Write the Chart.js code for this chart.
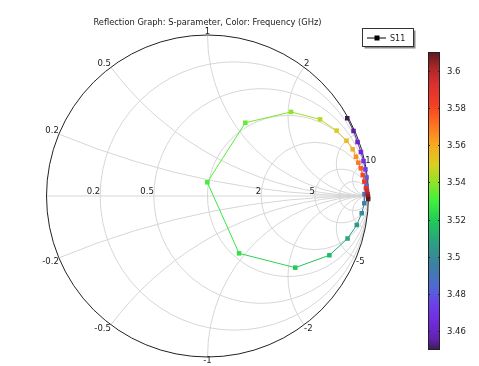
<!DOCTYPE html>
<html>
<head>
<meta charset="utf-8">
<script src="https://cdn.jsdelivr.net/npm/chart.js@4"></script>
<style>
  html,body{margin:0;padding:0;background:#fff;}
  canvas{display:block;}
</style>
</head>
<body>
<canvas id="c" width="479" height="366"></canvas>
<script>
// ---------------- data ----------------
const titleText = "Reflection Graph: S-parameter, Color: Frequency (GHz)";
const seriesName = "S11";
const freqGHz = [3.45, 3.455, 3.46, 3.465, 3.47, 3.475, 3.48, 3.485, 3.49, 3.495,
                 3.5, 3.505, 3.51, 3.515, 3.52, 3.525, 3.53, 3.535, 3.54, 3.545,
                 3.55, 3.555, 3.56, 3.565, 3.57, 3.575, 3.58, 3.585, 3.59, 3.595,
                 3.6, 3.605, 3.61];
const reGamma = [0.868, 0.907, 0.932, 0.953, 0.969, 0.981, 0.988, 0.988, 0.975, 0.974,
                 0.958, 0.927, 0.870, 0.757, 0.545, 0.196, -0.001, 0.235, 0.519, 0.699,
                 0.802, 0.863, 0.902, 0.922, 0.937, 0.952, 0.964, 0.974, 0.984, 0.991,
                 0.995, 0.997, 0.998];
const imGamma = [0.483, 0.404, 0.335, 0.273, 0.217, 0.165, 0.115, 0.062, 0.012, -0.045,
                 -0.107, -0.180, -0.264, -0.368, -0.445, -0.356, 0.085, 0.455, 0.522, 0.476,
                 0.406, 0.343, 0.290, 0.244, 0.207, 0.172, 0.130, 0.089, 0.048, 0.031,
                 0.012, -0.003, -0.019];
// Smith grid values
const rGrid = [0.2, 0.5, 1, 2, 5, 10];
const xGrid = [0.2, 0.5, 1, 2, 5, 10, -0.2, -0.5, -1, -2, -5, -10];
const rLabels = [0.2, 0.5, 2, 5];
const xLabels = [0.2, 0.5, 1, 2, 10, -0.2, -0.5, -1, -2, -5];
// color bar
const cbMin = 3.45, cbMax = 3.61;
const cbTicks = [3.46, 3.48, 3.5, 3.52, 3.54, 3.56, 3.58, 3.6];
const cbTickLabels = ["3.46", "3.48", "3.5", "3.52", "3.54", "3.56", "3.58", "3.6"];

// ---------------- colormap ----------------
const cmapStops = [
  [0.00, [60, 28, 84]],
  [0.04, [100, 34, 180]],
  [0.10, [112, 44, 224]],
  [0.15, [108, 62, 236]],
  [0.21, [80, 104, 210]],
  [0.29, [60, 130, 160]],
  [0.36, [44, 160, 130]],
  [0.43, [32, 200, 90]],
  [0.50, [64, 240, 60]],
  [0.56, [140, 228, 40]],
  [0.62, [216, 208, 32]],
  [0.69, [248, 168, 32]],
  [0.76, [255, 110, 32]],
  [0.82, [246, 64, 36]],
  [0.89, [220, 48, 48]],
  [0.95, [168, 38, 40]],
  [1.00, [90, 26, 32]]
];
function cmap(v){
  let t = (v - cbMin) / (cbMax - cbMin);
  t = Math.max(0, Math.min(1, t));
  for (let i = 1; i < cmapStops.length; i++){
    const [t1, c1] = cmapStops[i];
    const [t0, c0] = cmapStops[i-1];
    if (t <= t1){
      const f = (t - t0) / (t1 - t0);
      const c = c0.map((a, k) => Math.round(a + (c1[k] - a) * f));
      return `rgb(${c[0]},${c[1]},${c[2]})`;
    }
  }
  const c = cmapStops[cmapStops.length-1][1];
  return `rgb(${c[0]},${c[1]},${c[2]})`;
}

const points = freqGHz.map((f, i) => ({x: reGamma[i], y: imGamma[i], f}));
const pointColors = freqGHz.map(cmap);

const TXT = '#1a1a1a';
const LABEL_FONT = '8.5px "DejaVu Sans"';

const smithPlugin = {
  id: 'smith',
  beforeDatasetsDraw(chart){
    const ctx = chart.ctx, xs = chart.scales.x, ys = chart.scales.y;
    const px = v => xs.getPixelForValue(v);
    const py = v => ys.getPixelForValue(v);
    const unit = px(1) - px(0);
    const cx = px(0), cy = py(0);
    ctx.save();
    ctx.beginPath(); ctx.arc(cx, cy, unit, 0, 2*Math.PI); ctx.clip();
    ctx.strokeStyle = '#d6d6d6'; ctx.lineWidth = 1;
    ctx.beginPath(); ctx.moveTo(px(-1), cy); ctx.lineTo(px(1), cy); ctx.stroke();
    rGrid.forEach(r => {
      ctx.beginPath();
      ctx.arc(px(r/(1+r)), cy, unit/(1+r), 0, 2*Math.PI);
      ctx.stroke();
    });
    xGrid.forEach(x => {
      ctx.beginPath();
      ctx.arc(px(1), py(1/x), unit/Math.abs(x), 0, 2*Math.PI);
      ctx.stroke();
    });
    ctx.restore();
    // outer circle
    ctx.save();
    ctx.strokeStyle = '#222'; ctx.lineWidth = 1;
    ctx.beginPath(); ctx.arc(cx, cy, unit, 0, 2*Math.PI); ctx.stroke();
    // labels
    ctx.fillStyle = TXT; ctx.font = LABEL_FONT;
    rLabels.forEach(r => {
      const g = (r-1)/(r+1);
      ctx.textAlign = 'right'; ctx.textBaseline = 'bottom';
      ctx.fillText(String(r), px(g), cy);
    });
    xLabels.forEach(x => {
      const gr = (x*x-1)/(x*x+1), gi = 2*x/(x*x+1);
      const ax = Math.abs(x);
      ctx.textAlign = ax < 1 ? 'right' : (ax === 1 ? 'center' : 'left');
      ctx.textBaseline = x > 0 ? 'bottom' : 'top';
      ctx.fillText(String(x), px(gr), py(gi) + (x > 0 ? 1 : 0));
    });
    ctx.restore();
  },
  afterDraw(chart){
    const ctx = chart.ctx, area = chart.chartArea;
    ctx.save();
    // title
    ctx.fillStyle = TXT;
    ctx.font = '8.3px "DejaVu Sans"';
    ctx.textAlign = 'center'; ctx.textBaseline = 'alphabetic';
    ctx.fillText(titleText, (area.left + area.right)/2, 25);
    // legend
    const lx = 362.5, ly = 28.5, lw = 51, lh = 18;
    ctx.fillStyle = '#8a8a8a';
    ctx.fillRect(lx + 2, ly + 2, lw, lh);
    ctx.fillStyle = '#fff';
    ctx.fillRect(lx, ly, lw, lh);
    ctx.strokeStyle = '#333'; ctx.lineWidth = 1;
    ctx.strokeRect(lx, ly, lw, lh);
    ctx.strokeStyle = '#000';
    ctx.beginPath(); ctx.moveTo(367, 38); ctx.lineTo(386, 38); ctx.stroke();
    ctx.fillStyle = '#000';
    ctx.fillRect(374.5, 35.5, 5, 5);
    ctx.fillStyle = TXT; ctx.font = '8px "DejaVu Sans"';
    ctx.textAlign = 'left'; ctx.textBaseline = 'middle';
    ctx.fillText(seriesName, 390, 38.5);
    // colorbar
    const bx = 428, bw = 12, btop = 52, bbot = 350;
    const vy = v => bbot - (v - cbMin) / (cbMax - cbMin) * (bbot - btop);
    for (let y = btop; y < bbot; y++){
      const v = cbMin + (bbot - (y + 0.5)) / (bbot - btop) * (cbMax - cbMin);
      ctx.fillStyle = cmap(v);
      ctx.fillRect(bx, y, bw, 1);
    }
    ctx.strokeStyle = '#222'; ctx.lineWidth = 1;
    ctx.strokeRect(bx + 0.5, btop + 0.5, bw - 1, bbot - btop - 1);
    ctx.fillStyle = TXT; ctx.font = LABEL_FONT;
    ctx.textAlign = 'left'; ctx.textBaseline = 'middle';
    cbTicks.forEach((t, i) => {
      const y = Math.round(vy(t)) + 0.5;
      ctx.beginPath();
      ctx.moveTo(bx, y); ctx.lineTo(bx + 2, y);
      ctx.moveTo(bx + bw - 2, y); ctx.lineTo(bx + bw, y);
      ctx.stroke();
      ctx.fillText(cbTickLabels[i], 447, y);
    });
    ctx.restore();
  }
};

new Chart(document.getElementById('c'), {
  type: 'scatter',
  data: {
    datasets: [{
      label: seriesName,
      data: points,
      showLine: true,
      borderWidth: 1,
      borderColor: pointColors,
      segment: {
        borderColor: c => cmap((c.p0.raw.f + c.p1.raw.f) / 2)
      },
      pointStyle: 'rect',
      pointRadius: 3.2,
      pointBorderWidth: 0,
      pointBackgroundColor: pointColors,
      pointBorderColor: pointColors,
      clip: false
    }]
  },
  options: {
    responsive: false,
    animation: false,
    devicePixelRatio: 1,
    layout: { padding: { left: 46.5, right: 110.5, top: 35, bottom: 9 } },
    scales: {
      x: { type: 'linear', min: -1, max: 1, display: false },
      y: { type: 'linear', min: -1, max: 1, display: false }
    },
    plugins: { legend: { display: false }, title: { display: false }, tooltip: { enabled: false } }
  },
  plugins: [smithPlugin]
});
</script>
</body>
</html>
